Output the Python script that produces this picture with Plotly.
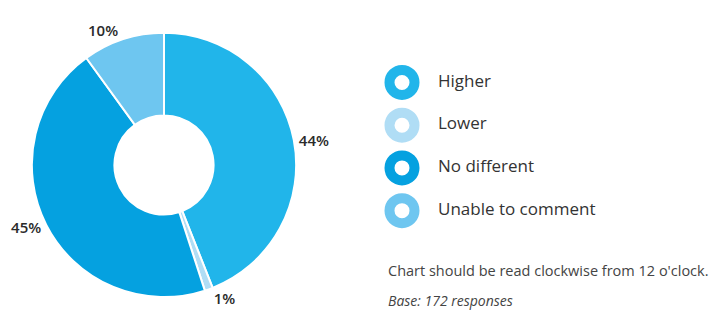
import plotly.graph_objects as go

categories = ["Higher", "Lower", "No different", "Unable to comment"]
values = [44, 1, 45, 10]
colors = ["#21B5EA", "#B0DDF5", "#05A1E0", "#6EC6F0"]
note_lines = ["Chart should be read clockwise from 12 o'clock.", "<i>Base: 172 responses</i>"]

FONT = "'Open Sans', Lato, sans-serif"
fig = go.Figure()

fig.add_trace(go.Pie(
    labels=categories, values=values, sort=False, direction="clockwise", rotation=0,
    hole=0.375,
    marker=dict(colors=colors, line=dict(color="white", width=2)),
    texttemplate="%{value}%", textposition="outside",
    textfont=dict(family=FONT, size=15, color="#2a2a2a", weight=600),
    domain=dict(x=[31/720, 297/720], y=[14/313, 280/313]),
    showlegend=False, hoverinfo="label+percent",
))

# legend-like ring markers
fig.add_trace(go.Scatter(
    x=[402]*len(categories), y=list(range(len(categories))), mode="markers",
    marker=dict(size=25, color="white", line=dict(color=colors, width=10)),
    showlegend=False, hoverinfo="skip",
))
fig.add_trace(go.Scatter(
    x=[438]*len(categories), y=list(range(len(categories))), mode="text",
    text=categories, textposition="middle right",
    textfont=dict(family=FONT, size=17, color="#333333"),
    showlegend=False, hoverinfo="skip",
))

fig.update_xaxes(range=[0, 720], domain=[0, 1], visible=False, fixedrange=True)
fig.update_yaxes(range=[(313-83)/43, -83/43], domain=[0, 1], visible=False, fixedrange=True)

fig.add_annotation(x=386/720, y=1-272/313, xref="paper", yref="paper", text=note_lines[0],
                   showarrow=False, xanchor="left", yanchor="middle",
                   font=dict(family=FONT, size=14.5, color="#444444"))
fig.add_annotation(x=386/720, y=1-302/313, xref="paper", yref="paper", text=note_lines[1],
                   showarrow=False, xanchor="left", yanchor="middle",
                   font=dict(family=FONT, size=14, color="#444444"))

fig.update_layout(width=720, height=313, margin=dict(l=0, r=0, t=0, b=0),
                  paper_bgcolor="white", plot_bgcolor="white")
fig.write_html("out.html", post_script="document.body.style.margin='0';",
               config={"displayModeBar": False})
